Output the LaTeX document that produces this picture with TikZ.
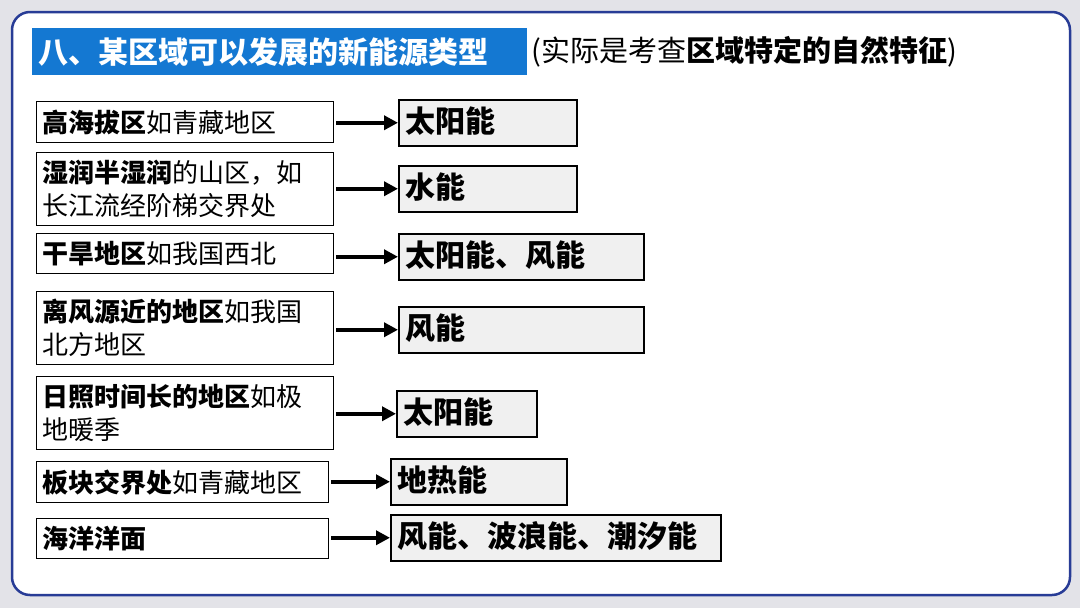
\documentclass[tikz,border=0pt]{standalone}
\usepackage{fontspec}
\usetikzlibrary{arrows.meta}
\setmainfont{Noto Sans CJK SC}
\begin{document}
\begin{tikzpicture}[x=1pt,y=-1pt,
 lbox/.style={draw,line width=1.2pt,anchor=north west,align=left,inner sep=6pt,font=\fontsize{26}{33}\selectfont,minimum height=#1},
 rbox/.style={draw,line width=1.5pt,fill=gray!12,anchor=north west,inner sep=7pt,font=\fontsize{30}{32}\selectfont\bfseries,minimum height=46pt,text height=24pt,text depth=4pt,align=left},
 arr/.style={-{Triangle[length=14pt,width=14pt]},line width=3.5pt}]
\useasboundingbox (0,0) rectangle (1080,608);
\fill[blue!10!gray!20] (0,0) rectangle (1080,608);
\draw[line width=2.5pt,draw={rgb,255:red,40;green,60;blue,150},fill=white,rounded corners=18pt] (12,12) rectangle (1070,595);
\node[fill={rgb,255:red,20;green,120;blue,210},text=white,font=\fontsize{30}{32}\selectfont\bfseries,anchor=north west,minimum width=495pt,minimum height=47pt,text width=483pt,inner sep=6pt,align=left] (t) at (32,28) {八、某区域可以发展的新能源类型};
\node[anchor=west,font=\fontsize{29}{32}\selectfont,inner sep=0pt] (t2) at (531,52) {(实际是考查\textbf{区域特定的自然特征})};
% left
\node[lbox=41pt,text width=285pt] (l1) at (36,101) {\textbf{高海拔区}如青藏地区};
\node[lbox=73pt,text width=285pt] (l2) at (36,152) {\textbf{湿润半湿润}的山区，如\\长江流经阶梯交界处};
\node[lbox=40pt,text width=285pt] (l3) at (36,233) {\textbf{干旱地区}如我国西北};
\node[lbox=73pt,text width=285pt] (l4) at (36,291) {\textbf{离风源近的地区}如我国\\北方地区};
\node[lbox=73pt,text width=285pt] (l5) at (36,376) {\textbf{日照时间长的地区}如极\\地暖季};
\node[lbox=41pt,text width=280pt] (l6) at (36,461) {\textbf{板块交界处}如青藏地区};
\node[lbox=40pt,text width=280pt] (l7) at (36,518) {\textbf{海洋洋面}};
% right
\node[rbox,text width=164pt] (r1) at (398,99) {太阳能};
\node[rbox,text width=164pt] (r2) at (398,165) {水能};
\node[rbox,text width=231pt] (r3) at (398,233) {太阳能、风能};
\node[rbox,text width=231pt] (r4) at (398,306) {风能};
\node[rbox,text width=126pt] (r5) at (396,390) {太阳能};
\node[rbox,text width=162pt] (r6) at (390,458) {地热能};
\node[rbox,text width=316pt] (r7) at (390,514) {风能、波浪能、潮汐能};
\foreach \i in {1,...,7}{\draw[arr] (l\i.east |- r\i.west) ++(2,0) -- (r\i.west);}
\end{tikzpicture}
\end{document}
